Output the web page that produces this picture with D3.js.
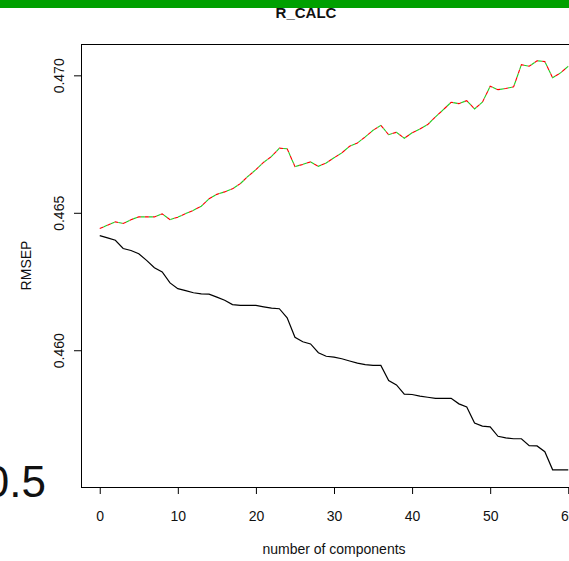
<!DOCTYPE html>
<html>
<head>
<meta charset="utf-8">
<script src="https://cdn.jsdelivr.net/npm/d3@7"></script>
<style>
  body { margin: 0; background: #fff; }
  svg { display: block; }
  text { font-family: "Liberation Sans", Arial, sans-serif; fill: #111; }
</style>
</head>
<body>
<svg id="chart" width="569" height="561"></svg>
<script>
// number of components 0..60
let comps = d3.range(0, 61)

// train RMSEP (black solid)
let train = [0.46417, 0.46409, 0.46400, 0.46370, 0.46363, 0.46351, 0.46327, 0.46300, 0.46285, 0.46245,
  0.46224, 0.46217, 0.46209, 0.46205, 0.46204, 0.46193, 0.46182, 0.46166, 0.46163, 0.46163,
  0.46163, 0.46158, 0.46153, 0.46151, 0.46118, 0.46047, 0.46031, 0.46023, 0.45991, 0.45978,
  0.45975, 0.45969, 0.45961, 0.45953, 0.45948, 0.45945, 0.45945, 0.45890, 0.45874, 0.45840,
  0.45839, 0.45833, 0.45829, 0.45825, 0.45825, 0.45825, 0.45805, 0.45794, 0.45735, 0.45724,
  0.45721, 0.45687, 0.45681, 0.45678, 0.45678, 0.45653, 0.45652, 0.45631, 0.45565, 0.45565,
  0.45565]

// CV / adjCV RMSEP (red dashed, green dashed - nearly identical)
let cv = [0.46443, 0.46455, 0.46467, 0.46461, 0.46475, 0.46485, 0.46485, 0.46485, 0.46496, 0.46475,
  0.46484, 0.46497, 0.46509, 0.46524, 0.46551, 0.46567, 0.46576, 0.46587, 0.46606, 0.46633,
  0.46657, 0.46684, 0.46705, 0.46735, 0.46733, 0.46668, 0.46676, 0.46685, 0.46669, 0.46681,
  0.46700, 0.46718, 0.46742, 0.46754, 0.46776, 0.46800, 0.46818, 0.46784, 0.46793, 0.46771,
  0.46791, 0.46805, 0.46821, 0.46849, 0.46875, 0.46902, 0.46897, 0.46908, 0.46878, 0.46902,
  0.46960, 0.46948, 0.46952, 0.46958, 0.47039, 0.47033, 0.47053, 0.47050, 0.46991, 0.47009,
  0.47033]
let adjcv = cv.slice()

let xTicks = [0, 10, 20, 30, 40, 50, 60]
let yTicks = [0.460, 0.465, 0.470]

let svg = d3.select('#chart')

// box like R: 4% padding round the data
let box = {left: 81, top: 44, bottom: 487, right: 587}

let x = d3.scaleLinear()
  .domain([-2.4, 62.4])
  .range([box.left, box.right])

let y = d3.scaleLinear()
  .domain([0.455025, 0.471140])
  .range([box.bottom, box.top])

// green strip on top
svg.append('rect')
  .attr('x', 0).attr('y', 0)
  .attr('width', 569).attr('height', 8)
  .attr('fill', '#00a000')

svg.append('text')
  .attr('x', 306).attr('y', 18)
  .attr('text-anchor', 'middle')
  .style('font-size', '15px')
  .style('font-weight', 'bold')
  .text('R_CALC')

// x axis
let xAxis = d3.axisBottom(x)
  .tickValues(xTicks)
  .tickSize(7)
  .tickPadding(17)
  .tickFormat(d3.format('d'))

let gx = svg.append('g')
  .attr('transform', 'translate(0,' + box.bottom + ')')
  .call(xAxis)
gx.select('.domain').remove()
gx.selectAll('text').style('font-size', '14px').style('font-family', null).attr('fill', '#111')

// y axis, labels rotated like R
let yAxis = d3.axisLeft(y)
  .tickValues(yTicks)
  .tickSize(7)
  .tickFormat(d3.format('.3f'))

let gy = svg.append('g')
  .attr('transform', 'translate(' + box.left + ',0)')
  .call(yAxis)
gy.select('.domain').remove()
gy.selectAll('text')
  .attr('x', null).attr('dy', null)
  .attr('text-anchor', 'middle')
  .attr('transform', 'translate(-17,0) rotate(-90)')
  .style('font-size', '14px').style('font-family', null).attr('fill', '#111')

svg.append('text')
  .attr('transform', 'translate(31,' + (box.top + box.bottom) / 2 + ') rotate(-90)')
  .attr('text-anchor', 'middle')
  .style('font-size', '14px')
  .text('RMSEP')

svg.append('text')
  .attr('x', (box.left + box.right) / 2).attr('y', 554)
  .attr('text-anchor', 'middle')
  .style('font-size', '14px')
  .text('number of components')

// plot box
svg.append('rect')
  .attr('x', box.left + 0.5).attr('y', box.top + 0.5)
  .attr('width', box.right - box.left).attr('height', box.bottom - box.top)
  .attr('fill', 'none')
  .attr('stroke', '#000')
  .attr('stroke-width', 1)

let line = d3.line()
  .x((d, i) => x(comps[i]))
  .y((d) => y(d))

svg.append('path')
  .datum(train)
  .attr('d', line)
  .attr('fill', 'none')
  .attr('stroke', '#000')
  .attr('stroke-width', 1.2)

svg.append('path')
  .datum(cv)
  .attr('d', line)
  .attr('fill', 'none')
  .attr('stroke', '#ff0000')
  .attr('stroke-width', 1.1)
  .attr('stroke-dasharray', '4,4')

svg.append('path')
  .datum(adjcv)
  .attr('d', line)
  .attr('fill', 'none')
  .attr('stroke', '#22cc22')
  .attr('stroke-width', 1.1)
  .attr('stroke-dasharray', '4,4')
  .attr('stroke-dashoffset', 4)

// stray big label at lower left, cut by the window
svg.append('text')
  .attr('x', 46).attr('y', 497)
  .attr('text-anchor', 'end')
  .style('font-size', '44px')
  .text('0.5')
</script>
</body>
</html>
